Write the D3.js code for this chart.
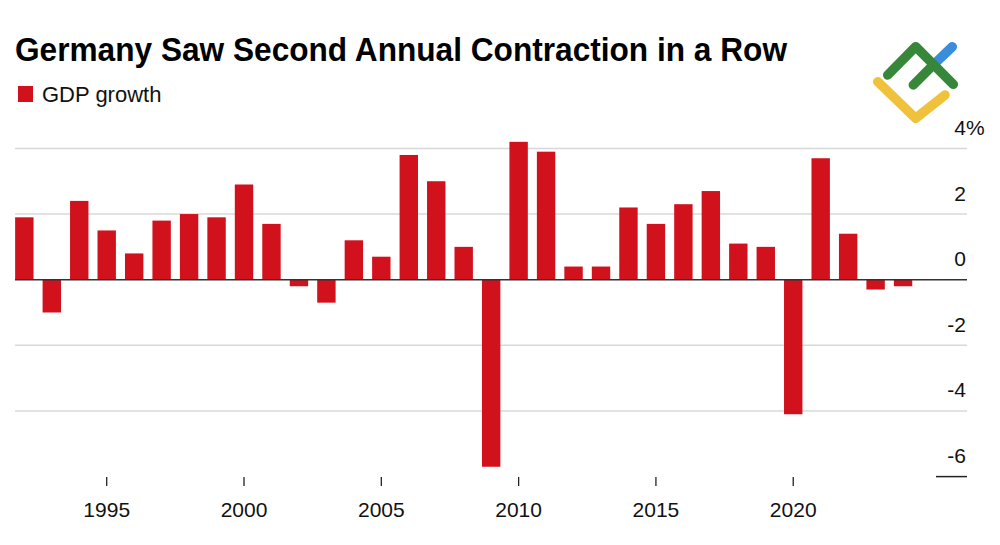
<!DOCTYPE html>
<html>
<head>
<meta charset="utf-8">
<script src="https://cdn.jsdelivr.net/npm/d3@7"></script>
<style>
  html, body { margin: 0; padding: 0; background: #fff; }
  svg { display: block; font-family: "Liberation Sans", Arial, Helvetica, sans-serif; }
</style>
</head>
<body>
<svg id="chart" width="1000" height="545"></svg>
<script>
// annual real GDP growth, %
const years = d3.range(1992, 2025)
const growth = [
  1.9, -1.0, 2.4, 1.5, 0.8, 1.8, 2.0, 1.9, 2.9, 1.7, -0.2, -0.7,
  1.2, 0.7, 3.8, 3.0, 1.0, -5.7, 4.2, 3.9, 0.4, 0.4, 2.2, 1.7,
  2.3, 2.7, 1.1, 1.0, -4.1, 3.7, 1.4, -0.3, -0.2
]
const yTicks = [4, 2, 0, -2, -4, -6]
const xTicks = [1995, 2000, 2005, 2010, 2015, 2020]

const svg = d3.select("#chart")

const x = d3.scaleBand()
  .domain(years)
  .range([10.6, 916.8])
  .paddingInner(0.33)
  .paddingOuter(0.165)

const y = d3.scaleLinear()
  .domain([-6, 4])
  .range([476.6, 148.4])

const gridLeft = 15, gridRight = 967

// title + legend
svg.append("text")
  .attr("x", 15).attr("y", 61)
  .attr("font-size", 34).attr("font-weight", "bold")
  .attr("textLength", 772).attr("lengthAdjust", "spacingAndGlyphs")
  .attr("fill", "#000")
  .text("Germany Saw Second Annual Contraction in a Row")

svg.append("rect")
  .attr("x", 18).attr("y", 86).attr("width", 15).attr("height", 16)
  .attr("fill", "#d1111c")
svg.append("text")
  .attr("x", 42).attr("y", 102)
  .attr("font-size", 22).attr("fill", "#111")
  .text("GDP growth")

// gridlines
svg.append("g").selectAll("line")
  .data(yTicks.filter(d => d != 0 && d != -6))
  .join("line")
    .attr("x1", gridLeft).attr("x2", gridRight)
    .attr("y1", d => y(d)).attr("y2", d => y(d))
    .attr("stroke", "#d8d8d8").attr("stroke-width", 1.5)

// bars
svg.append("g").selectAll("rect")
  .data(years.map((yr, i) => ({year: yr, v: growth[i]})))
  .join("rect")
    .attr("x", d => x(d.year))
    .attr("width", x.bandwidth())
    .attr("y", d => y(Math.max(0, d.v)))
    .attr("height", d => Math.abs(y(d.v) - y(0)))
    .attr("fill", "#d1111c")

// zero line
svg.append("line")
  .attr("x1", gridLeft).attr("x2", gridRight)
  .attr("y1", y(0)).attr("y2", y(0))
  .attr("stroke", "#333").attr("stroke-width", 1.5)

// short base marker at -6
svg.append("line")
  .attr("x1", 936).attr("x2", gridRight)
  .attr("y1", y(-6)).attr("y2", y(-6))
  .attr("stroke", "#222").attr("stroke-width", 1.5)

// y labels
const yl = svg.append("g").attr("font-size", 21).attr("fill", "#111")
yl.selectAll("text")
  .data(yTicks)
  .join("text")
    .attr("x", 966)
    .attr("y", d => y(d) - 13.5)
    .attr("text-anchor", "end")
    .text(d => d)
yl.append("text")
  .attr("x", 966).attr("y", y(4) - 13.5)
  .text("%")

// x ticks + labels
const xa = svg.append("g")
xa.selectAll("line")
  .data(xTicks)
  .join("line")
    .attr("x1", d => x(d) + x.bandwidth() / 2)
    .attr("x2", d => x(d) + x.bandwidth() / 2)
    .attr("y1", 477).attr("y2", 486)
    .attr("stroke", "#222").attr("stroke-width", 1.3)
xa.selectAll("text")
  .data(xTicks)
  .join("text")
    .attr("x", d => x(d) + x.bandwidth() / 2)
    .attr("y", 517)
    .attr("text-anchor", "middle")
    .attr("font-size", 21).attr("fill", "#111")
    .text(d => d)

// watermark logo
const logo = svg.append("g")
  .attr("fill", "none").attr("stroke-linecap", "round").attr("stroke-linejoin", "round")
  .attr("stroke-width", 9.5)
logo.append("path").attr("d", "M933.6,64.6 L952.3,46.7").attr("stroke", "#3a8ddb")
logo.append("path").attr("d", "M877.7,81.7 L915.7,118.3 L945,95").attr("stroke", "#f0c23c")
logo.append("path").attr("d", "M887.7,75 L915.7,46.7 L953.3,84.3").attr("stroke", "#36873a")
logo.append("path").attr("d", "M913.3,85 L933.6,64.6").attr("stroke", "#36873a")
</script>
</body>
</html>
